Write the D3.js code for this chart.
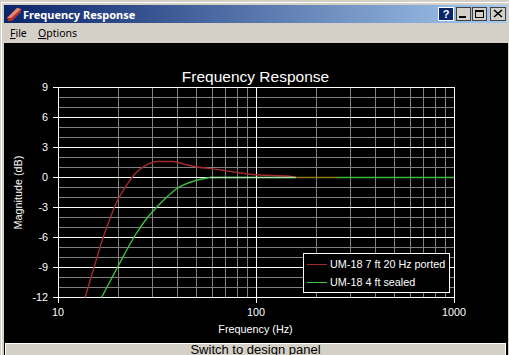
<!DOCTYPE html>
<html>
<head>
<meta charset="utf-8">
<script src="https://cdnjs.cloudflare.com/ajax/libs/d3/7.8.5/d3.min.js"></script>
<style>
    html, body { margin: 0; padding: 0; background: #fff; overflow: hidden; }
    text { font-family: "Liberation Sans", Arial, sans-serif; }
</style>
</head>
<body>
<div id="chart"></div>
<script>
// values
const yTicks = [-12, -9, -6, -3, 0, 3, 6, 9];
const yMinor = [-11, -10, -8, -7, -5, -4, -2, -1, 1, 2, 4, 5, 7, 8];
const xTicks = [10, 100, 1000];
const xMinor = [20, 30, 40, 50, 60, 70, 80, 90, 200, 300, 400, 500, 600, 700, 800, 900];

const portedFreq = [13.7, 15.2, 16.9, 18.3, 20.2, 22, 23.6, 25, 26.9, 29, 31.5, 38.2, 44, 50, 65.7, 80, 100, 148, 159];
const portedDb = [-12, -9, -6, -4.1, -2.1, -0.9, 0, 0.55, 1.07, 1.4, 1.6, 1.6, 1.3, 1.07, 0.77, 0.5, 0.27, 0.13, 0];
const sealedFreq = [16.6, 20.2, 24.5, 28, 31.5, 35.4, 39.7, 48.3, 58.6];
const sealedDb = [-12, -8.8, -5.8, -4.13, -2.97, -1.97, -1.13, -0.37, 0];

// the stretch where the curves sit on the 0 dB line, one colour each
const flatFreq = [58.6, 159, 259, 1000];
const flatDb = [0, 0, 0, 0];
const flatColors = ["#a8f0a8", "#8f7a14", "#35b835"];

const legendLabels = ["UM-18 7 ft 20 Hz ported", "UM-18 4 ft sealed"];
const legendColors = ["#a32a2a", "#3cc23c"];

const svg = d3.select("#chart").append("svg")
    .attr("width", 509).attr("height", 355)
    .style("display", "block");

// window chrome
const defs = svg.append("defs");
const grad = defs.append("linearGradient").attr("id", "titlebar");
grad.append("stop").attr("offset", 0).attr("stop-color", "#0a246a");
grad.append("stop").attr("offset", 1).attr("stop-color", "#a6caf0");

svg.append("rect").attr("width", 509).attr("height", 355).attr("fill", "#d4d0c8");
svg.append("rect").attr("x", 1).attr("y", 2).attr("width", 508).attr("height", 1).attr("fill", "#ffffff");
svg.append("rect").attr("x", 1).attr("y", 2).attr("width", 1).attr("height", 353).attr("fill", "#ffffff");
svg.append("rect").attr("x", 4).attr("y", 5).attr("width", 503).attr("height", 18).attr("fill", "url(#titlebar)");
svg.append("rect").attr("x", 4).attr("y", 43).attr("width", 504).attr("height", 312).attr("fill", "#000");

// title bar icon
svg.append("path").attr("d", "M7 18 L17 8 L21 9 L21 12 L12 21 L8 21 Z").attr("fill", "#b5302a");
svg.append("path").attr("d", "M7 18 L17 8 L21 9 L11 18 Z").attr("fill", "#e08a70");

svg.append("text").attr("x", 23).attr("y", 19).attr("fill", "#fff")
    .style("font-family", "'Noto Sans', sans-serif")
    .style("font-size", "11px").style("font-weight", "bold").text("Frequency Response");

// title bar buttons
const winButtons = [
    {x: 438, w: 16, fill: "#0a246a", stroke: "#fff"},
    {x: 456, w: 15, fill: "#d4d0c8", stroke: "#404040"},
    {x: 472, w: 15, fill: "#d4d0c8", stroke: "#404040"},
    {x: 490, w: 16, fill: "#d4d0c8", stroke: "#404040"}
];
svg.selectAll(".winButton").data(winButtons).join("rect")
    .attr("x", d => d.x + 0.5).attr("y", 7.5).attr("width", d => d.w - 1).attr("height", 13)
    .attr("fill", d => d.fill).attr("stroke", d => d.stroke);
svg.append("text").attr("x", 446).attr("y", 18).attr("text-anchor", "middle").attr("fill", "#fff")
    .style("font-size", "11px").style("font-weight", "bold").text("?");
svg.append("rect").attr("x", 459).attr("y", 16).attr("width", 7).attr("height", 2).attr("fill", "#000");
svg.append("rect").attr("x", 475.5).attr("y", 10.5).attr("width", 8).attr("height", 7)
    .attr("fill", "none").attr("stroke", "#000").attr("stroke-width", 1);
svg.append("rect").attr("x", 475).attr("y", 10).attr("width", 9).attr("height", 2).attr("fill", "#000");
svg.append("path").attr("d", "M494 10 L502 17 M502 10 L494 17").attr("stroke", "#000").attr("stroke-width", 1.6);

// menu bar
const menuItems = [{x: 10, first: "F", rest: "ile"}, {x: 38, first: "O", rest: "ptions"}];
menuItems.forEach(m => {
    const t = svg.append("text").attr("x", m.x).attr("y", 37).attr("fill", "#000")
        .style("font-family", "'Noto Sans', sans-serif").style("font-size", "10.5px");
    t.append("tspan").attr("text-decoration", "underline").text(m.first);
    t.append("tspan").text(m.rest);
});

// plot
const x = d3.scaleLog().domain([10, 1000]).range([58, 454]);
const y = d3.scaleLinear().domain([-12, 9]).range([297, 87]);

// half pixel offset so every grid line fills exactly one pixel
const px = v => Math.round(v) + 0.5;

const g = svg.append("g");
g.selectAll(".xMinor").data(xMinor).join("line")
    .attr("x1", d => px(x(d))).attr("x2", d => px(x(d))).attr("y1", y(9)).attr("y2", y(-12))
    .attr("stroke", "#808080");
g.selectAll(".yMinor").data(yMinor).join("line")
    .attr("x1", x(10)).attr("x2", x(1000)).attr("y1", d => px(y(d))).attr("y2", d => px(y(d)))
    .attr("stroke", "#808080");
g.selectAll(".yMajor").data(yTicks).join("line")
    .attr("x1", x(10) - 5).attr("x2", x(1000) + 1).attr("y1", d => px(y(d))).attr("y2", d => px(y(d)))
    .attr("stroke", "#fff");
g.selectAll(".xMajor").data(xTicks).join("line")
    .attr("x1", d => px(x(d))).attr("x2", d => px(x(d))).attr("y1", y(9)).attr("y2", y(-12) + 6)
    .attr("stroke", "#fff");

svg.selectAll(".yLabel").data(yTicks).join("text")
    .attr("x", 48).attr("y", d => y(d) + 4).attr("text-anchor", "end")
    .attr("fill", "#fff").style("font-size", "10.8px").text(d => d);
svg.selectAll(".xLabel").data(xTicks).join("text")
    .attr("x", d => x(d)).attr("y", 316).attr("text-anchor", "middle")
    .attr("fill", "#fff").style("font-size", "10.8px").text(d => d);

svg.append("text").attr("x", 255.5).attr("y", 82).attr("text-anchor", "middle")
    .attr("fill", "#fff").style("font-size", "15.5px").style("font-weight", "300").text("Frequency Response");
svg.append("text").attr("x", 255.5).attr("y", 333).attr("text-anchor", "middle")
    .attr("fill", "#fff").style("font-size", "10.8px").text("Frequency (Hz)");
svg.append("text").attr("transform", "translate(22,192.5) rotate(-90)").attr("text-anchor", "middle")
    .attr("fill", "#fff").style("font-size", "10.8px").text("Magnitude (dB)");

// curves
const line = d3.line().x(d => x(d[0])).y(d => px(y(0)) + (y(d[1]) - y(0))).curve(d3.curveMonotoneX);
svg.append("path").datum(d3.zip(sealedFreq, sealedDb)).attr("d", line)
    .attr("fill", "none").attr("stroke", legendColors[1]).attr("stroke-width", 1.4);
svg.append("path").datum(d3.zip(portedFreq, portedDb)).attr("d", line)
    .attr("fill", "none").attr("stroke", legendColors[0]).attr("stroke-width", 1.4);

// flat part drawn last, over the white 0 dB line
const flatPoints = d3.zip(flatFreq, flatDb);
flatColors.forEach((c, i) => {
    svg.append("path").datum(flatPoints.slice(i, i + 2)).attr("d", line)
        .attr("fill", "none").attr("stroke", c).attr("stroke-width", 1.4);
});

// legend
svg.append("rect").attr("x", 303.5).attr("y", 253.5).attr("width", 146).attr("height", 39)
    .attr("fill", "#000").attr("stroke", "#fff");
legendLabels.forEach((t, i) => {
    svg.append("line").attr("x1", 307).attr("x2", 327).attr("y1", 264.5 + i * 18).attr("y2", 264.5 + i * 18)
        .attr("stroke", legendColors[i]);
    svg.append("text").attr("x", 330).attr("y", 268 + i * 18).attr("fill", "#fff")
        .style("font-size", "10.8px").text(t);
});

// bottom button, runs off the bottom edge of the picture
svg.append("rect").attr("x", 5.5).attr("y", 343.5).attr("width", 500).attr("height", 14)
    .attr("fill", "#d4d0c8").attr("stroke", "#fff");
svg.append("text").attr("x", 255.5).attr("y", 354).attr("text-anchor", "middle").attr("fill", "#000")
    .style("font-size", "13px").text("Switch to design panel");
</script>
</body>
</html>
